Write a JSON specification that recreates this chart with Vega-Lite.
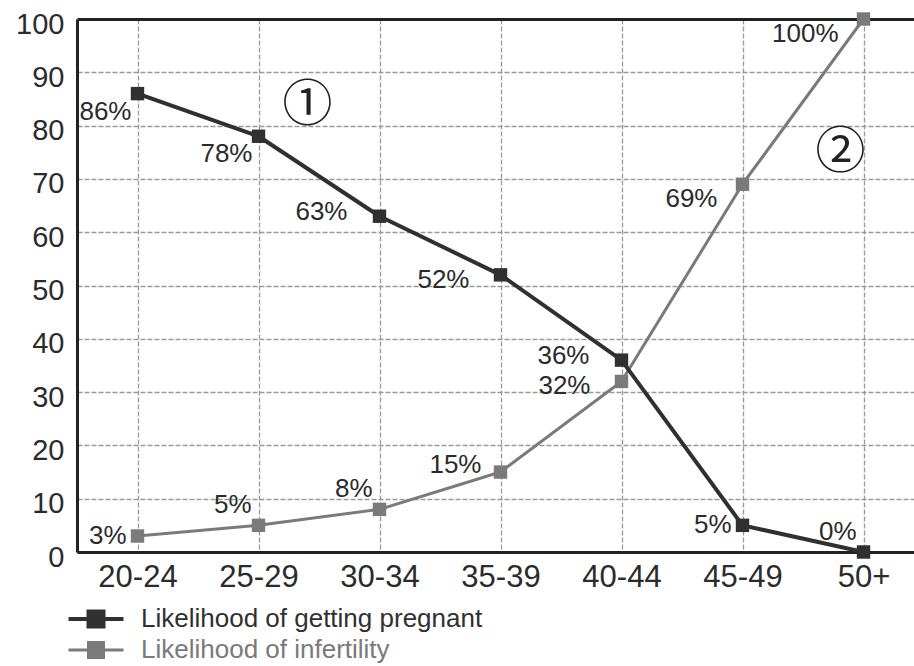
{
  "$schema": "https://vega.github.io/schema/vega-lite/v6.json",
  "width": 847,
  "height": 533,
  "autosize": {"type": "none"},
  "padding": {"left": 77, "top": 19, "right": -10, "bottom": 114},
  "background": "white",
  "config": {
    "view": {"stroke": null},
    "font": "Liberation Sans",
    "text": {"font": "Liberation Sans"}
  },
  "datasets": {
    "main": [
      {"series": "Likelihood of infertility", "age": "20-24", "value": 3, "label": "3%"},
      {"series": "Likelihood of infertility", "age": "25-29", "value": 5, "label": "5%"},
      {"series": "Likelihood of infertility", "age": "30-34", "value": 8, "label": "8%"},
      {"series": "Likelihood of infertility", "age": "35-39", "value": 15, "label": "15%"},
      {"series": "Likelihood of infertility", "age": "40-44", "value": 32, "label": "32%"},
      {"series": "Likelihood of infertility", "age": "45-49", "value": 69, "label": "69%"},
      {"series": "Likelihood of infertility", "age": "50+", "value": 100, "label": "100%"},
      {"series": "Likelihood of getting pregnant", "age": "20-24", "value": 86, "label": "86%"},
      {"series": "Likelihood of getting pregnant", "age": "25-29", "value": 78, "label": "78%"},
      {"series": "Likelihood of getting pregnant", "age": "30-34", "value": 63, "label": "63%"},
      {"series": "Likelihood of getting pregnant", "age": "35-39", "value": 52, "label": "52%"},
      {"series": "Likelihood of getting pregnant", "age": "40-44", "value": 36, "label": "36%"},
      {"series": "Likelihood of getting pregnant", "age": "45-49", "value": 5, "label": "5%"},
      {"series": "Likelihood of getting pregnant", "age": "50+", "value": 0, "label": "0%"}
    ],
    "notes": [
      {"age": "25-29", "value": 83.6, "note": "①"},
      {"age": "50+", "value": 74.8, "note": "②"}
    ]
  },
  "data": {"name": "main"},
  "encoding": {
    "x": {
      "field": "age", "type": "ordinal", "sort": null,
      "scale": {"type": "point", "padding": 0.5},
      "axis": {
        "title": null, "labelAngle": 0, "labelFontSize": 31, "labelColor": "#2b2b2b",
        "labelPadding": 10, "ticks": false, "domainColor": "#222", "domainWidth": 3,
        "grid": true, "gridColor": "#9a9a9a", "gridDash": [5, 2], "gridWidth": 1.3
      }
    },
    "y": {
      "field": "value", "type": "quantitative",
      "scale": {"domain": [0, 100], "nice": false},
      "axis": {
        "title": null, "values": [0, 10, 20, 30, 40, 50, 60, 70, 80, 90, 100],
        "labelFontSize": 29, "labelColor": "#2b2b2b", "labelPadding": 13, "labelOffset": 5,
        "ticks": false, "domainColor": "#222", "domainWidth": 3,
        "grid": true,
        "gridColor": {"condition": {"test": "datum.value === 100", "value": "#222"}, "value": "#9a9a9a"},
        "gridWidth": {"condition": {"test": "datum.value === 100", "value": 3}, "value": 1.3},
        "gridDash": {"condition": {"test": "datum.value === 100", "value": []}, "value": [5, 2]}
      }
    }
  },
  "layer": [
    {
      "mark": {"type": "line", "strokeJoin": "round"},
      "encoding": {
        "color": {
          "field": "series", "type": "nominal",
          "scale": {"domain": ["Likelihood of getting pregnant", "Likelihood of infertility"], "range": ["#303030", "#7a7a7a"]},
          "legend": {
            "orient": "none", "legendX": 6, "legendY": 587, "title": null,
            "symbolType": "M-2.75,0H2.75M-0.75,-0.75H0.75V0.75H-0.75Z",
            "symbolSize": 400, "symbolStrokeWidth": 3.5,
            "labelFontSize": 26, "labelFont": "Liberation Sans", "labelOffset": 32, "labelLimit": 0,
            "rowPadding": 1, "padding": 0,
            "encode": {
              "symbols": {"update": {"fill": {"scale": "color", "field": "value"}, "stroke": {"scale": "color", "field": "value"}, "opacity": {"value": 1}}},
              "labels": {"update": {"fill": {"scale": "color", "field": "value"}}}
            }
          }
        },
        "strokeWidth": {
          "field": "series", "type": "nominal",
          "scale": {"domain": ["Likelihood of getting pregnant", "Likelihood of infertility"], "range": [4, 3]},
          "legend": null
        }
      }
    },
    {
      "mark": {"type": "point", "shape": "square", "filled": true, "size": 180, "opacity": 1},
      "encoding": {
        "color": {"field": "series", "type": "nominal"}
      }
    },
    {
      "transform": [{"filter": "(test(/preg/, datum.series) && (datum.age === '20-24' || datum.age === '25-29'))"}],
      "mark": {"type": "text", "align": "right", "baseline": "middle", "dx": -6, "dy": 18, "fontSize": 26, "color": "#2b2b2b"},
      "encoding": {"text": {"field": "label"}}
    },
    {
      "transform": [{"filter": "(test(/preg/, datum.series) && (datum.age === '30-34' || datum.age === '40-44'))"}],
      "mark": {"type": "text", "align": "right", "baseline": "middle", "dx": -32, "dy": -4, "fontSize": 26, "color": "#2b2b2b"},
      "encoding": {"text": {"field": "label"}}
    },
    {
      "transform": [{"filter": "(test(/preg/, datum.series) && datum.age === '35-39') || (test(/infert/, datum.series) && datum.age === '40-44')"}],
      "mark": {"type": "text", "align": "right", "baseline": "middle", "dx": -31, "dy": 5, "fontSize": 26, "color": "#2b2b2b"},
      "encoding": {"text": {"field": "label"}}
    },
    {
      "transform": [{"filter": "(test(/preg/, datum.series) && datum.age === '45-49') || (test(/infert/, datum.series) && datum.age === '20-24')"}],
      "mark": {"type": "text", "align": "right", "baseline": "middle", "dx": -11, "dy": 0, "fontSize": 26, "color": "#2b2b2b"},
      "encoding": {"text": {"field": "label"}}
    },
    {
      "transform": [{"filter": "(test(/preg/, datum.series) && datum.age === '50+') || (test(/infert/, datum.series) && (datum.age === '25-29' || datum.age === '30-34'))"}],
      "mark": {"type": "text", "align": "right", "baseline": "middle", "dx": -7, "dy": -20, "fontSize": 26, "color": "#2b2b2b"},
      "encoding": {"text": {"field": "label"}}
    },
    {
      "transform": [{"filter": "test(/infert/, datum.series) && datum.age === '35-39'"}],
      "mark": {"type": "text", "align": "right", "baseline": "middle", "dx": -19, "dy": -7, "fontSize": 26, "color": "#2b2b2b"},
      "encoding": {"text": {"field": "label"}}
    },
    {
      "transform": [{"filter": "test(/infert/, datum.series) && (datum.age === '45-49' || datum.age === '50+')"}],
      "mark": {"type": "text", "align": "right", "baseline": "middle", "dx": -25, "dy": 15, "fontSize": 26, "color": "#2b2b2b"},
      "encoding": {"text": {"field": "label"}}
    },
    {
      "data": {"name": "notes"},
      "transform": [{"filter": "datum.note === '①'"}],
      "mark": {"type": "text", "align": "center", "baseline": "middle", "dx": 49, "fontSize": 50, "font": "Noto Sans CJK JP", "color": "#222"},
      "encoding": {"text": {"field": "note"}}
    },
    {
      "data": {"name": "notes"},
      "transform": [{"filter": "datum.note === '②'"}],
      "mark": {"type": "text", "align": "center", "baseline": "middle", "dx": -23, "fontSize": 50, "font": "Noto Sans CJK JP", "color": "#222"},
      "encoding": {"text": {"field": "note"}}
    }
  ]
}
